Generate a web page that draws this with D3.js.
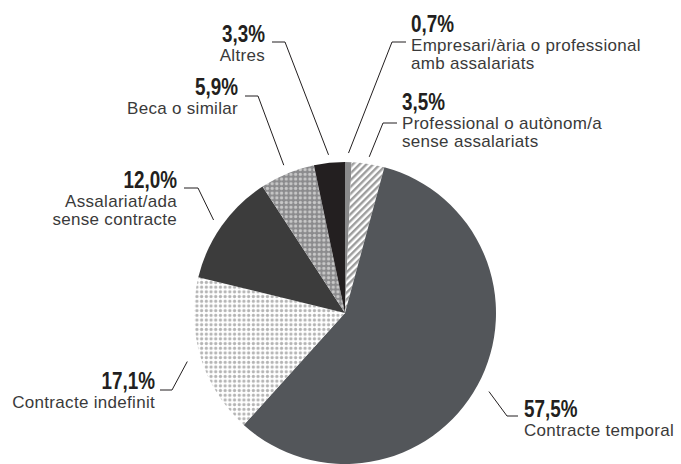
<!DOCTYPE html>
<html><head><meta charset="utf-8">
<script src="https://cdn.jsdelivr.net/npm/d3@7"></script>
<style>body{margin:0;background:#fff}</style>
</head><body><svg id="c" width="681" height="464"></svg>
<script>
const categories = ["Empresari/ària o professional amb assalariats", "Professional o autònom/a sense assalariats", "Contracte temporal", "Contracte indefinit", "Assalariat/ada sense contracte", "Beca o similar", "Altres"];
const values = [0.7, 3.5, 57.5, 17.1, 12.0, 5.9, 3.3];
const valueLabels = ["0,7%", "3,5%", "57,5%", "17,1%", "12,0%", "5,9%", "3,3%"];
const labelLines = [["Empresari/ària o professional", "amb assalariats"], ["Professional o autònom/a", "sense assalariats"], ["Contracte temporal"], ["Contracte indefinit"], ["Assalariat/ada", "sense contracte"], ["Beca o similar"], ["Altres"]];
const fills = ["#8a8a8b", "url(#hatch)", "#53565a", "url(#dotsLight)", "#3c3c3c", "url(#dotsGray)", "#231f20"];

// label layout (positions only)
const layout = [
  {x:411, y:32,  anchor:"start", ly:42,  lx1:406, lx2:392, rr:160},
  {x:402, y:110, anchor:"start", ly:123, lx1:397, lx2:383, rr:158},
  {x:524, y:417, anchor:"start", ly:416, lx1:518, lx2:507, rr:164},
  {x:155, y:389, anchor:"end",   ly:390, lx1:160, lx2:172, rr:165},
  {x:177, y:187.5, anchor:"end", ly:188, lx1:184, lx2:198, rr:161},
  {x:238, y:94.5, anchor:"end",  ly:96,  lx1:245, lx2:258, rr:160},
  {x:265, y:42,  anchor:"end",   ly:42,  lx1:272, lx2:285, rr:159}
];

const svg = d3.select("#c");
const defs = svg.append("defs");
const h = defs.append("pattern").attr("id","hatch").attr("patternUnits","userSpaceOnUse")
  .attr("width",4.8).attr("height",4.8).attr("patternTransform","rotate(45)");
h.append("rect").attr("width",4.8).attr("height",4.8).attr("fill","#fff");
h.append("rect").attr("x",0).attr("width",2.4).attr("height",4.8).attr("fill","#9d9d9d");

function dots(id, bg, fg, s, r){
  const p = defs.append("pattern").attr("id",id).attr("patternUnits","userSpaceOnUse")
    .attr("width",s).attr("height",s);
  p.append("rect").attr("width",s).attr("height",s).attr("fill",bg);
  p.append("circle").attr("cx",s/2).attr("cy",s/2).attr("r",r).attr("fill",fg);
}
dots("dotsLight", "#ffffff", "#b4b4b4", 4.7, 1.6);
dots("dotsGray", "#8b8b8d", "#c8c8c8", 4.7, 1.65);

const cx = 345, cy = 313, R = 151;
const g = svg.append("g").attr("transform", `translate(${cx},${cy})`);
const pie = d3.pie().sort(null).value(d => d);
const arcs = pie(values);
const arc = d3.arc().innerRadius(0).outerRadius(R);

g.selectAll("path.slice").data(arcs).enter().append("path")
  .attr("class","slice").attr("d", arc).attr("fill", (d,i) => fills[i]);

// leader lines and labels
arcs.forEach((d,i) => {
  const L = layout[i];
  const a = (d.startAngle + d.endAngle) / 2;
  const px = cx + L.rr * Math.sin(a), py = cy - L.rr * Math.cos(a);
  svg.append("polyline")
    .attr("points", `${L.lx1},${L.ly} ${L.lx2},${L.ly} ${px},${py}`)
    .attr("fill","none").attr("stroke","#231f20").attr("stroke-width",1);
  const t = svg.append("g");
  t.append("g").attr("transform", `translate(${L.x},${L.y}) scale(0.82,1)`)
    .append("text").attr("x", 0).attr("y", 0).attr("text-anchor", L.anchor)
    .attr("font-family","'Liberation Sans', Arial, sans-serif").attr("font-weight","bold")
    .attr("font-size",23).attr("fill","#231f20").text(valueLabels[i]);
  labelLines[i].forEach((ln,j) => {
    t.append("text").attr("x", L.x).attr("y", L.y + 19 + j*18).attr("text-anchor", L.anchor)
      .attr("font-family","'Liberation Sans', Arial, sans-serif")
      .attr("font-size",17).attr("letter-spacing",0.3).attr("fill","#3a3a3a").text(ln);
  });
});
</script></body></html>
